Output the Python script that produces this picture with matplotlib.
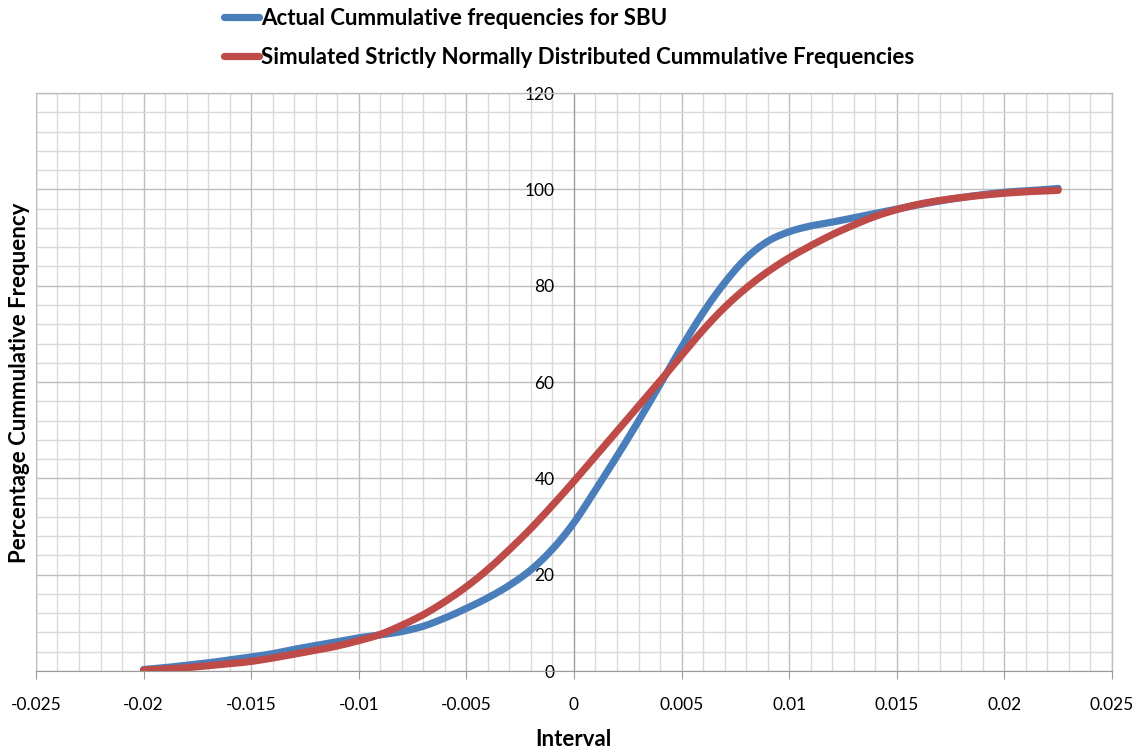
import numpy as np
import matplotlib.pyplot as plt
from matplotlib.ticker import MultipleLocator, FuncFormatter

plt.rcParams['font.family'] = ['Lato', 'DejaVu Sans']

# interval midpoints
interval = [-0.020, -0.019, -0.018, -0.017, -0.016, -0.015, -0.014, -0.013, -0.012,
            -0.011, -0.010, -0.009, -0.008, -0.007, -0.006, -0.005, -0.004, -0.003,
            -0.002, -0.001, 0.000, 0.001, 0.002, 0.003, 0.004, 0.005, 0.006, 0.007,
            0.008, 0.009, 0.010, 0.011, 0.012, 0.013, 0.014, 0.015, 0.016, 0.017,
            0.018, 0.019, 0.020, 0.021, 0.022, 0.0225]

# cumulative % for SBU
actual = [0.3, 0.7, 1.2, 1.7, 2.3, 2.9, 3.6, 4.5, 5.3,
          6.1, 6.9, 7.5, 8.2, 9.3, 11.0, 13.0, 15.2, 17.8,
          21.0, 25.3, 30.8, 37.6, 44.6, 51.9, 59.5, 67.2, 74.4, 80.6,
          85.7, 89.2, 91.2, 92.4, 93.2, 94.1, 95.0, 95.9, 96.8, 97.6,
          98.3, 98.9, 99.4, 99.7, 100.0, 100.2]

# normal reference
normal = [0.2, 0.4, 0.7, 1.1, 1.5, 2.0, 2.7, 3.5, 4.3,
          5.2, 6.3, 7.6, 9.5, 11.7, 14.4, 17.5, 21.1, 25.2,
          29.6, 34.4, 39.4, 44.6, 49.8, 55.0, 60.2, 65.5, 70.8, 75.5,
          79.5, 82.9, 85.8, 88.3, 90.6, 92.6, 94.4, 95.8, 96.9, 97.7,
          98.3, 98.8, 99.2, 99.5, 99.7, 99.8]


def smooth(xs, ys, n=12):
    # catmull-rom through the points, like a spreadsheet "smoothed line"
    x = np.asarray(xs, float)
    y = np.asarray(ys, float)
    px = np.concatenate([[2 * x[0] - x[1]], x, [2 * x[-1] - x[-2]]])
    py = np.concatenate([[2 * y[0] - y[1]], y, [2 * y[-1] - y[-2]]])
    t = np.linspace(0, 1, n, endpoint=False)
    ox, oy = [], []
    for i in range(1, len(px) - 2):
        for arr, out in ((px, ox), (py, oy)):
            p0, p1, p2, p3 = arr[i - 1], arr[i], arr[i + 1], arr[i + 2]
            out.extend(0.5 * (2 * p1 + (-p0 + p2) * t + (2 * p0 - 5 * p1 + 4 * p2 - p3) * t ** 2
                              + (-p0 + 3 * p1 - 3 * p2 + p3) * t ** 3))
    ox.append(x[-1])
    oy.append(y[-1])
    return ox, oy


fig = plt.figure(figsize=(11.38, 7.51), dpi=100)
ax = fig.add_axes([0.0316, 0.1065, 0.9455, 0.7696])

sx, sy = smooth(interval, actual)
ax.plot(sx, sy, color='#4a7ebb', lw=5.2, solid_capstyle='round',
        solid_joinstyle='round', label='Actual Cummulative frequencies for SBU', zorder=3)
sx, sy = smooth(interval, normal)
ax.plot(sx, sy, color='#be4b48', lw=5.2, solid_capstyle='round',
        solid_joinstyle='round',
        label='Simulated Strictly Normally Distributed Cummulative Frequencies', zorder=4)

ax.set_xlim(-0.025, 0.025)
ax.set_ylim(0, 120)
ax.xaxis.set_major_locator(MultipleLocator(0.005))
ax.xaxis.set_minor_locator(MultipleLocator(0.001))
ax.yaxis.set_major_locator(MultipleLocator(20))
ax.yaxis.set_minor_locator(MultipleLocator(4))
ax.xaxis.set_major_formatter(FuncFormatter(lambda v, p: '0' if abs(v) < 1e-9 else f'{round(v, 4):g}'))

ax.grid(which='major', color='#bdbdbd', lw=1.0)
ax.grid(which='minor', color='#dadada', lw=1.0)
ax.set_axisbelow(True)

for s in ['top', 'right']:
    ax.spines[s].set_color('#bdbdbd')
    ax.spines[s].set_linewidth(1.0)
ax.spines['left'].set_position(('data', 0))
ax.spines['left'].set_color('#9a9a9a')
ax.spines['bottom'].set_color('#9a9a9a')
ax.tick_params(which='minor', length=0)
ax.tick_params(axis='x', which='major', length=6, color='#9a9a9a', labelsize=12.5, pad=13)
ax.tick_params(axis='y', which='major', length=0, color='#9a9a9a', labelsize=12.5, pad=14)

# plot area border on the left edge
ax.axvline(-0.025, color='#bdbdbd', lw=1.0, zorder=1)

fig.text(0.504, 0.007, 'Interval', fontsize=16, fontweight='bold', ha='center')
fig.text(0.017, 0.49, 'Percentage Cummulative Frequency', fontsize=16, fontweight='bold',
         rotation=90, ha='center', va='center')

fig.legend(loc='upper left', bbox_to_anchor=(0.179, 1.016), frameon=False,
           handlelength=1.6, handletextpad=0.1, labelspacing=0.8,
           prop={'size': 16, 'weight': 'bold'})

fig.savefig('out.png', dpi=100)
